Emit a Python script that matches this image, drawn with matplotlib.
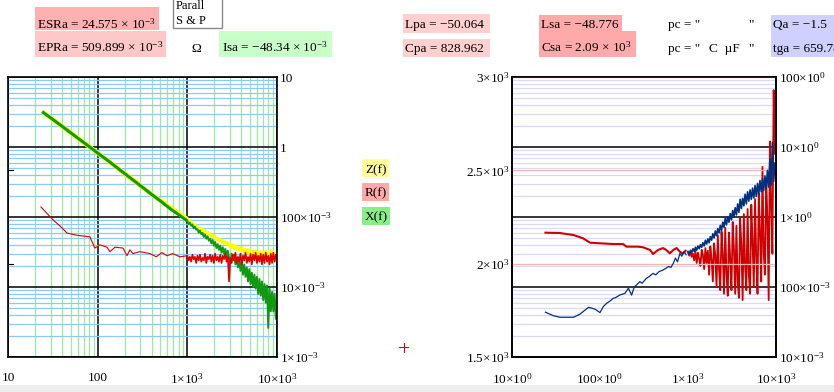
import matplotlib
matplotlib.use('Agg')
import matplotlib.pyplot as plt
from matplotlib.patches import Rectangle
from matplotlib.lines import Line2D
from matplotlib.ticker import NullFormatter, LogLocator, FixedLocator
import numpy as np

plt.rcParams['font.family'] = ['Liberation Serif', 'DejaVu Serif']
plt.rcParams['mathtext.fontset'] = 'custom'
plt.rcParams['mathtext.rm'] = 'Liberation Serif'
plt.rcParams['mathtext.it'] = 'Liberation Serif:italic'
plt.rcParams['mathtext.default'] = 'regular'

# ---- left chart: Z(f), R(f), X(f) ----
f_smooth = [24, 30, 40, 50, 60, 80, 100, 130, 170, 220, 300, 400, 500, 650, 800, 1000]
x_smooth = [3.2, 2.6, 1.98, 1.6, 1.34, 1.02, 0.82, 0.64, 0.49, 0.38, 0.28, 0.21,
            0.17, 0.13, 0.108, 0.088]
z_smooth = [3.2, 2.6, 1.98, 1.6, 1.34, 1.02, 0.82, 0.64, 0.49, 0.38, 0.28, 0.21,
            0.172, 0.135, 0.113, 0.093]

f_r_smooth = [23.3, 31.8, 40, 45.5, 58, 82, 93, 106, 127, 137, 156, 192, 212, 229,
              247, 295, 383, 450, 520, 593, 689, 827, 1000]
r_smooth = [0.139, 0.091, 0.070, 0.059, 0.055, 0.052, 0.036, 0.040, 0.037, 0.032,
            0.037, 0.036, 0.028, 0.034, 0.030, 0.032, 0.030, 0.027, 0.031, 0.028,
            0.030, 0.027, 0.028]

# dense frequency grid of the noisy high-frequency part (both charts)
f_noisy = [1000, 1033, 1067, 1102, 1139, 1176, 1215, 1255, 1297, 1340,
           1384, 1430, 1477, 1526, 1576, 1628, 1682, 1737, 1795, 1854,
           1915, 1978, 2044, 2111, 2181, 2253, 2327, 2404, 2483, 2565,
           2650, 2738, 2828, 2921, 3018, 3117, 3220, 3326, 3436, 3550,
           3667, 3788, 3913, 4042, 4176, 4313, 4456, 4603, 4755, 4912,
           5074, 5241, 5414, 5593, 5778, 5968, 6165, 6369, 6579, 6796,
           7020, 7252, 7491, 7739, 7994, 8258, 8531, 8812, 9103, 9404, 9714, 10000]

x_noisy = [0.088, 0.079, 0.083, 0.075, 0.078, 0.069, 0.073, 0.066, 0.067, 0.060,
           0.064, 0.057, 0.059, 0.052, 0.056, 0.049, 0.053, 0.046, 0.049, 0.042,
           0.047, 0.039, 0.044, 0.036, 0.041, 0.034, 0.039, 0.031, 0.037, 0.030,
           0.035, 0.027, 0.033, 0.026, 0.022, 0.030, 0.024, 0.029, 0.021, 0.026,
           0.019, 0.025, 0.017, 0.023, 0.015, 0.021, 0.014, 0.019, 0.012, 0.018,
           0.011, 0.016, 0.010, 0.015, 0.0095, 0.014, 0.008, 0.013, 0.0075, 0.012,
           0.0065, 0.011, 0.006, 0.0105, 0.0026, 0.0095, 0.0045, 0.0085, 0.0045, 0.0080,
           0.0035, 0.0065]
z_noisy = [0.093, 0.085, 0.088, 0.080, 0.083, 0.075, 0.079, 0.072, 0.075, 0.068,
           0.071, 0.064, 0.068, 0.061, 0.065, 0.058, 0.062, 0.055, 0.059, 0.053,
           0.056, 0.050, 0.054, 0.047, 0.051, 0.045, 0.049, 0.043, 0.047, 0.041,
           0.045, 0.040, 0.044, 0.038, 0.042, 0.036, 0.041, 0.035, 0.040, 0.034,
           0.038, 0.033, 0.037, 0.032, 0.036, 0.031, 0.035, 0.030, 0.035, 0.029,
           0.034, 0.028, 0.033, 0.028, 0.033, 0.027, 0.032, 0.027, 0.033, 0.026,
           0.032, 0.027, 0.033, 0.026, 0.032, 0.027, 0.034, 0.026, 0.032, 0.027,
           0.031, 0.027]
r_noisy = [0.028, 0.024, 0.027, 0.023, 0.029, 0.025, 0.027, 0.022, 0.028, 0.024,
           0.029, 0.023, 0.026, 0.024, 0.030, 0.022, 0.027, 0.025, 0.029, 0.023,
           0.028, 0.022, 0.030, 0.024, 0.027, 0.023, 0.029, 0.022, 0.028, 0.025,
           0.030, 0.023, 0.027, 0.012, 0.026, 0.022, 0.029, 0.024, 0.031, 0.022,
           0.027, 0.023, 0.030, 0.021, 0.028, 0.024, 0.031, 0.022, 0.027, 0.023,
           0.030, 0.021, 0.029, 0.024, 0.031, 0.022, 0.028, 0.023, 0.030, 0.021,
           0.029, 0.022, 0.031, 0.023, 0.028, 0.021, 0.030, 0.022, 0.031, 0.023,
           0.029, 0.024]

# ---- right chart: capacitance (linear, left axis) and loss (log, right axis) ----
f_c_low = [24, 29.5, 35, 50, 59, 74, 80, 88, 100, 109, 119, 130, 141, 150, 168, 192,
           210, 229, 245, 260, 284, 300, 338, 360, 401, 430, 470, 521, 560, 600, 640,
           681, 720, 760, 809, 850, 900, 950]
c_low = [1740, 1721, 1713, 1713, 1729, 1766, 1762, 1756, 1738, 1770, 1788, 1800,
         1814, 1818, 1832, 1841, 1868, 1832, 1875, 1886, 1904, 1895, 1922, 1930,
         1948, 1940, 1958, 1966, 1975, 1985, 1980, 2002, 2030, 2010, 2055, 2040,
         2065, 2048]
c_noisy = [2065, 2052, 2072, 2058, 2080, 2066, 2088, 2072, 2095, 2080,
           2102, 2088, 2112, 2095, 2125, 2105, 2133, 2112, 2145, 2126,
           2160, 2138, 2175, 2150, 2188, 2165, 2205, 2178, 2222, 2195,
           2245, 2208, 2252, 2222, 2268, 2235, 2285, 2250, 2300, 2262,
           2320, 2275, 2345, 2295, 2350, 2310, 2372, 2320, 2385, 2335,
           2395, 2345, 2405, 2352, 2418, 2360, 2430, 2372, 2445, 2385,
           2455, 2392, 2470, 2400, 2500, 2410, 2560, 2420, 2650, 2440, 2540, 2495]

f_t_low = [24, 35, 50, 64, 77, 100, 141, 183, 200, 270, 309, 370, 401, 456, 521, 567,
           620, 681, 741, 809, 870, 940]
t_low = [0.597, 0.59, 0.553, 0.497, 0.43, 0.421, 0.411, 0.411, 0.377, 0.377, 0.369,
         0.338, 0.296, 0.338, 0.36, 0.338, 0.303, 0.338, 0.36, 0.32, 0.30, 0.33]
t_noisy = [0.31, 0.28, 0.32, 0.27, 0.30, 0.24, 0.33, 0.22, 0.31, 0.25,
           0.20, 0.34, 0.29, 0.18, 0.36, 0.22, 0.33, 0.15, 0.38, 0.25,
           0.12, 0.42, 0.28, 0.10, 0.55, 0.18, 0.09, 0.62, 0.30, 0.08,
           0.70, 0.15, 0.075, 0.60, 0.25, 0.09, 0.85, 0.35, 0.08, 0.75,
           0.12, 0.07, 0.95, 0.40, 0.065, 1.1, 0.20, 0.09, 1.3, 0.15,
           0.08, 1.5, 0.45, 0.10, 1.8, 0.25, 0.08, 2.2, 0.6, 0.12,
           5.2, 0.3, 0.15, 3.5, 0.9, 0.065, 12, 1.5, 0.3, 65, 8, 40]

W, H = 834, 392
fig = plt.figure(figsize=(W / 100, H / 100), dpi=100)
fig.patch.set_facecolor('white')


def fx(x):
    return x / W


def fy(y):
    return 1 - y / H


def box(x0, y0, x1, y1, color, ec='none'):
    fig.patches.append(Rectangle((fx(x0), fy(y1)), (x1 - x0) / W, (y1 - y0) / H,
                                 transform=fig.transFigure, facecolor=color,
                                 edgecolor=ec, lw=1, zorder=0))


def label(x, y, s, size=9.5, color='black'):
    fig.text(fx(x), fy(y), s, ha='left', va='baseline', fontsize=size, color=color)


# header boxes and texts
box(35, 7, 159, 30, '#ffb0b0')
box(35, 31, 166, 57, '#ffc8c8')
box(219, 31, 332, 57, '#c8ffc8')
box(173, -2, 222, 28, 'white', ec='#888888')
box(403, 14, 490, 33, '#ffd0d0')
box(403, 39, 490, 57, '#ffd0d0')
box(539, 15, 622, 33, '#ffaaaa')
box(539, 31, 636, 57, '#ffaaaa')
box(771, 15, 840, 57, '#d0d0ff')

label(37, 29, 'ESRa = 24.575 × 10$^{-3}$')
label(37, 52, 'EPRa = 509.899 × 10$^{-3}$')
label(191, 52, 'Ω')
label(222, 52, 'Isa = −48.34 × 10$^{-3}$')
label(176, 9, 'Parall', size=9)
label(176, 24, 'S & P', size=9)
label(405, 28, 'Lpa = −50.064')
label(405, 52, 'Cpa = 828.962')
label(541, 28, 'Lsa = −48.776')
label(541, 52, 'Csa = 2.09 × 10$^{3}$')
label(668, 28, 'pc = "')
label(748, 28, '"')
label(668, 52, 'pc = "')
label(709, 52, 'C  µF')
label(748, 52, '"')
label(773, 28, 'Qa = −1.5')
label(773, 52, 'tga = 659.78')

# legend boxes
box(362, 159, 389, 177, '#ffff99')
box(362, 183, 389, 201, '#ffaaaa')
box(362, 207, 390, 225, '#88ee88')
label(365, 173, 'Z(f)')
label(365, 196, 'R(f)')
label(365, 220, 'X(f)')

# red cross and bottom strip
fig.lines.append(Line2D([fx(399), fx(408)], [fy(347), fy(347)], color='#dd0000', lw=0.8,
                        transform=fig.transFigure))
fig.lines.append(Line2D([fx(403.5), fx(403.5)], [fy(343), fy(352)], color='#dd0000', lw=0.8,
                        transform=fig.transFigure))
box(0, 385, 834, 393, '#eeeeee')

# ---- left axes ----
ax = fig.add_axes([fx(8), fy(357), 269 / W, 280 / H])
ax.set_xscale('log')
ax.set_yscale('log')
ax.set_xlim(10, 1e4)
ax.set_ylim(1e-3, 10)
ax.xaxis.set_minor_locator(LogLocator(base=10, subs=np.arange(2, 10)))
ax.yaxis.set_minor_locator(LogLocator(base=10, subs=np.arange(2, 10)))
ax.xaxis.set_minor_formatter(NullFormatter())
ax.yaxis.set_minor_formatter(NullFormatter())
ax.grid(which='minor', axis='x', color='#98ee98', lw=0.9)
ax.grid(which='minor', axis='y', color='#8cc8f8', lw=0.9)
ax.grid(which='major', color='black', lw=1.1)
ax.set_axisbelow(True)

ax.plot(f_smooth, z_smooth, color='#ffff00', lw=3.4, solid_capstyle='butt')
ax.plot(f_noisy, z_noisy, color='#ffff00', lw=1.5)
ax.plot(f_smooth, x_smooth, color='#119911', lw=2.2, solid_capstyle='butt')
ax.plot(f_noisy, x_noisy, color='#119911', lw=1.4)
ax.plot(f_r_smooth, r_smooth, color='#dd0000', lw=0.8)
ax.plot(f_noisy, r_noisy, color='#dd0000', lw=1.2)

ax.set_xticks([10, 100, 1000, 10000])
ax.set_xticklabels(['10', '100', '1×10$^3$', '10×10$^3$'])
ax.yaxis.tick_right()
ax.set_yticks([1e-3, 1e-2, 1e-1, 1, 10])
ax.set_yticklabels(['1×10$^{-3}$', '10×10$^{-3}$', '100×10$^{-3}$', '1', '10'])
ax.tick_params(which='both', length=0, labelsize=9.5)
ax.tick_params(axis='x', pad=11)
ax.tick_params(axis='y', pad=2)
for s in ax.spines.values():
    s.set_color('black')
    s.set_linewidth(1.2)

for yy in [170, 264]:
    fig.lines.append(Line2D([fx(8), fx(13)], [fy(yy), fy(yy)], color='black', lw=0.8,
                            transform=fig.transFigure))

# ---- right axes ----
axc = fig.add_axes([fx(512), fy(357), 264 / W, 280 / H])
axt = axc.twinx()
axc.set_zorder(2)
axt.set_zorder(1)
axc.patch.set_visible(False)
axt.patch.set_facecolor('white')

for a in (axc, axt):
    a.set_xscale('log')
    a.set_xlim(10, 1e4)
axt.set_yscale('log')
axt.set_ylim(1e-2, 100)
axc.set_ylim(1500, 3000)

axt.xaxis.set_minor_locator(LogLocator(base=10, subs=np.arange(2, 10)))
axt.yaxis.set_minor_locator(LogLocator(base=10, subs=np.arange(2, 10)))
axt.yaxis.set_minor_formatter(NullFormatter())
axt.grid(which='minor', axis='x', color='#ccf2cc', lw=0.9)
axt.grid(which='minor', axis='y', color='#dadaf6', lw=0.9)
axt.grid(which='major', axis='y', color='black', lw=1.1)
axt.grid(which='major', axis='x', color='black', lw=1.1, linestyle=(0, (4, 1.5)))
axt.set_axisbelow(True)
axc.yaxis.set_major_locator(FixedLocator([1500, 2000, 2500, 3000]))
axc.grid(which='major', axis='y', color='#ffb0b0', lw=0.9)
axc.grid(which='both', axis='x', visible=False)

axt.plot(f_t_low, t_low, color='#d00000', lw=1.5)
axt.plot(f_noisy, t_noisy, color='#d00000', lw=1.3)
axc.plot(f_c_low, c_low, color='#00307f', lw=0.9)
axc.plot(f_noisy, c_noisy, color='#00307f', lw=1.2)

axc.set_xticks([10, 100, 1000, 10000])
axc.set_xticklabels(['10×10$^0$', '100×10$^0$', '1×10$^3$', '10×10$^3$'])
axc.xaxis.set_minor_formatter(NullFormatter())
axt.xaxis.set_minor_formatter(NullFormatter())
axc.set_yticklabels(['1.5×10$^3$', '2×10$^3$', '2.5×10$^3$', '3×10$^3$'])
axt.set_yticks([1e-2, 1e-1, 1, 10, 100])
axt.set_yticklabels(['10×10$^{-3}$', '100×10$^{-3}$', '1×10$^0$', '10×10$^0$', '100×10$^0$'])
for a in (axc, axt):
    a.tick_params(which='both', length=0, labelsize=9.5)
    for s in a.spines.values():
        s.set_color('black')
        s.set_linewidth(1.2)
axc.tick_params(axis='x', pad=11)
axc.tick_params(axis='y', pad=2)
axt.tick_params(axis='y', pad=2)

fig.savefig('out.png', dpi=100)
